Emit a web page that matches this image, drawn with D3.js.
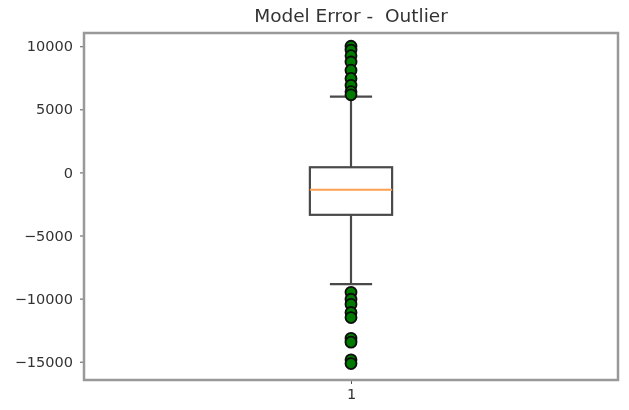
<!DOCTYPE html>
<html>
<head>
<meta charset="utf-8">
<script src="https://cdn.jsdelivr.net/npm/d3@7"></script>
<style>
	body { margin: 0; background: #fff; }
	text { font-family: "DejaVu Sans", sans-serif; fill: #333; }
</style>
</head>
<body>
<script>
// box stats
const categories = ['1'];
const stats = [{q1: -3360, median: -1380, q3: 410, low: -8850, high: 6000}];
const outliersHigh = [10000, 9700, 9250, 8750, 8100, 7450, 6900, 6400, 6150];
const outliersLow = [-9500, -10050, -10450, -11100, -11500, -13150, -13450, -14850, -15150];
const yTicks = [10000, 5000, 0, -5000, -10000, -15000];

const width = 629, height = 410;
const margin = {top: 33, right: 11, bottom: 30, left: 84};
const w = width - margin.left - margin.right;
const h = height - margin.top - margin.bottom;

const svg = d3.select('body').append('svg')
	.attr('width', width)
	.attr('height', height);

svg.append('defs').append('filter')
	.attr('id', 'soft')
	.append('feGaussianBlur')
	.attr('stdDeviation', 0.7);

const root = svg.append('g').attr('filter', 'url(#soft)');

const x = d3.scaleLinear().domain([0.5, 1.5]).range([0, w]);
const y = d3.scaleLinear().domain([-16450, 11050]).range([h, 0]);

const g = root.append('g').attr('transform', `translate(${margin.left},${margin.top})`);

const yAxis = d3.axisLeft(y).tickValues(yTicks).tickSize(4).tickPadding(7)
	.tickFormat(d => d < 0 ? '\u2212' + Math.abs(d) : d);
g.append('g').call(yAxis)
	.call(a => a.select('.domain').remove())
	.call(a => a.selectAll('.tick line').attr('stroke', '#555'))
	.call(a => a.selectAll('.tick text').attr('font-size', 14.5).attr('fill', '#333'));

const xAxis = d3.axisBottom(x).tickValues([1]).tickFormat(() => categories[0]).tickSize(4).tickPadding(5);
g.append('g').attr('transform', `translate(0,${h})`).call(xAxis)
	.call(a => a.select('.domain').remove())
	.call(a => a.selectAll('.tick line').attr('stroke', '#555'))
	.call(a => a.selectAll('.tick text').attr('font-size', 14.5).attr('fill', '#333'));

// frame
g.append('rect')
	.attr('width', w).attr('height', h)
	.attr('fill', 'none').attr('stroke', '#999').attr('stroke-width', 2.5);

const boxW = 0.154, capW = 0.079;
const ink = '#4a4a4a';
stats.forEach((s, i) => {
	const cx = x(i + 1);
	const bx = g.append('g');
	bx.append('line').attr('x1', cx).attr('x2', cx).attr('y1', y(s.q3)).attr('y2', y(s.high))
		.attr('stroke', ink).attr('stroke-width', 2.2);
	bx.append('line').attr('x1', cx).attr('x2', cx).attr('y1', y(s.q1)).attr('y2', y(s.low))
		.attr('stroke', ink).attr('stroke-width', 2.2);
	[s.high, s.low].forEach(v => {
		bx.append('line')
			.attr('x1', x(i + 1 - capW / 2)).attr('x2', x(i + 1 + capW / 2))
			.attr('y1', y(v)).attr('y2', y(v))
			.attr('stroke', ink).attr('stroke-width', 2.2);
	});
	bx.append('rect')
		.attr('x', x(i + 1 - boxW / 2)).attr('width', x(i + 1 + boxW / 2) - x(i + 1 - boxW / 2))
		.attr('y', y(s.q3)).attr('height', y(s.q1) - y(s.q3))
		.attr('fill', 'none').attr('stroke', ink).attr('stroke-width', 2.2);
	bx.append('line')
		.attr('x1', x(i + 1 - boxW / 2)).attr('x2', x(i + 1 + boxW / 2))
		.attr('y1', y(s.median)).attr('y2', y(s.median))
		.attr('stroke', '#ffa050').attr('stroke-width', 2);

	g.append('g').selectAll('circle')
		.data(outliersHigh.concat(outliersLow))
		.enter().append('circle')
		.attr('cx', cx)
		.attr('cy', d => y(d))
		.attr('r', 5.5)
		.attr('fill', '#007a00')
		.attr('stroke', '#0a0a0a')
		.attr('stroke-width', 1.8);
});

root.append('text')
	.attr('x', margin.left + w / 2)
	.attr('y', 22)
	.attr('text-anchor', 'middle')
	.attr('font-size', 18.5)
	.style('white-space', 'pre')
	.text('Model Error -  Outlier');
</script>
</body>
</html>
